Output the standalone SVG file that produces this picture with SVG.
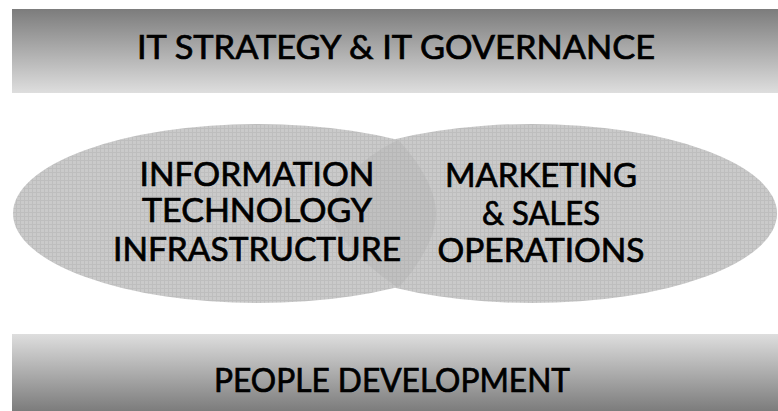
<svg xmlns="http://www.w3.org/2000/svg" width="778" height="411" viewBox="0 0 778 411">
  <defs>
    <linearGradient id="gTop" x1="0" y1="0" x2="0" y2="1">
      <stop offset="0" stop-color="#7c7c7c"/>
      <stop offset="1" stop-color="#dedede"/>
    </linearGradient>
    <linearGradient id="gBot" x1="0" y1="0" x2="0" y2="1">
      <stop offset="0" stop-color="#dedede"/>
      <stop offset="1" stop-color="#7c7c7c"/>
    </linearGradient>
    <pattern id="grid" width="4" height="4" patternUnits="userSpaceOnUse">
      <rect width="4" height="4" fill="#cacaca"/>
      <rect width="4" height="1" fill="#bebebe"/>
      <rect width="1" height="4" fill="#bebebe"/>
    </pattern>
    <style>
      .lbl { font-family: "Lato", "Open Sans", "Liberation Sans", sans-serif; font-size: 32px; fill: #000; stroke: #000; stroke-width: 0.7px; text-anchor: middle; }
    </style>
  </defs>

  <g id="top-bar">
    <rect x="12" y="9" width="766" height="84" fill="url(#gTop)"/>
    <text class="lbl" x="396" y="59" textLength="518" lengthAdjust="spacingAndGlyphs">IT STRATEGY &amp; IT GOVERNANCE</text>
  </g>

  <g id="left-ellipse">
    <ellipse cx="258" cy="213.5" rx="245" ry="89.5" fill="url(#grid)"/>
  </g>
  <g id="right-ellipse">
    <ellipse cx="532" cy="213.5" rx="245" ry="89.5" fill="url(#grid)"/>
  </g>
  <g id="overlap">
    <path d="M398,140 C418,160 436,190 436,213.5 C436,237 418,267 398,288 C370,268 335,240 332,213.5 C330,190 360,158 398,140 Z" fill="#a8a8a8" fill-opacity="0.3"/>
  </g>

  <g id="left-label">
    <text class="lbl" x="257" y="186" textLength="235" lengthAdjust="spacingAndGlyphs">INFORMATION</text>
    <text class="lbl" x="257" y="222" textLength="230" lengthAdjust="spacingAndGlyphs">TECHNOLOGY</text>
    <text class="lbl" x="257" y="261" textLength="288" lengthAdjust="spacingAndGlyphs">INFRASTRUCTURE</text>
  </g>
  <g id="right-label">
    <text class="lbl" x="541" y="187" textLength="192" lengthAdjust="spacingAndGlyphs">MARKETING</text>
    <text class="lbl" x="541" y="225" textLength="118" lengthAdjust="spacingAndGlyphs">&amp; SALES</text>
    <text class="lbl" x="541" y="262" textLength="207" lengthAdjust="spacingAndGlyphs">OPERATIONS</text>
  </g>

  <g id="bottom-bar">
    <rect x="12" y="334" width="766" height="77" fill="url(#gBot)"/>
    <text class="lbl" x="392" y="392" textLength="356" lengthAdjust="spacingAndGlyphs">PEOPLE DEVELOPMENT</text>
  </g>

  <g id="connectors"/>
</svg>
